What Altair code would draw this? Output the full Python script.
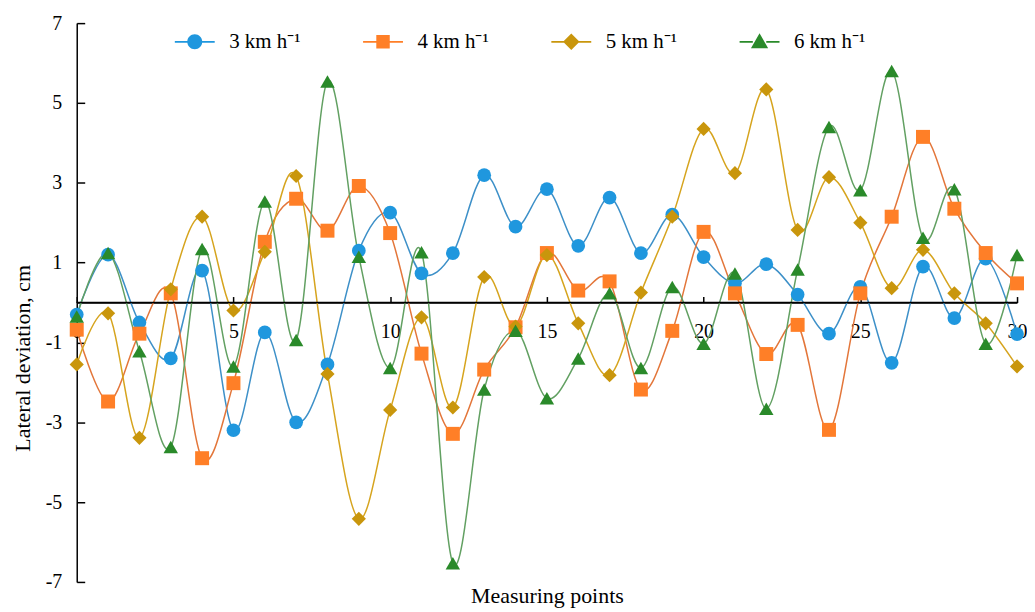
import altair as alt
import pandas as pd

# ---------------- data ----------------
points = list(range(31))
series = ["3 km h⁻¹", "4 km h⁻¹", "5 km h⁻¹", "6 km h⁻¹"]
v3 = [-0.3, 1.2, -0.5, -1.4, 0.8, -3.2, -0.75, -3.0, -1.55, 1.3, 2.25, 0.73, 1.24, 3.19, 1.9,
      2.84, 1.42, 2.63, 1.24, 2.2, 1.14, 0.48, 0.96, 0.2, -0.78, 0.39, -1.51, 0.9, -0.39, 1.1, -0.79]
v4 = [-0.68, -2.48, -0.78, 0.23, -3.9, -2.02, 1.52, 2.6, 1.8, 2.92, 1.74, -1.28, -3.29, -1.68, -0.62,
      1.24, 0.3, 0.53, -2.18, -0.71, 1.77, 0.23, -1.29, -0.56, -3.19, 0.23, 2.15, 4.15, 2.35, 1.24, 0.48]
v5 = [-1.55, -0.27, -3.39, 0.33, 2.15, -0.2, 1.27, 3.17, -1.79, -5.42, -2.69, -0.37, -2.63, 0.64, -0.6,
      1.19, -0.52, -1.82, 0.25, 2.15, 4.35, 3.24, 5.34, 1.82, 3.14, 2.0, 0.36, 1.32, 0.23, -0.52, -1.6]
v6 = [-0.35, 1.24, -1.22, -3.62, 1.34, -1.6, 2.53, -0.94, 5.54, 1.15, -1.64, 1.26, -6.53, -2.18, -0.71,
      -2.4, -1.4, 0.23, -1.64, 0.39, -1.03, 0.73, -2.66, 0.83, 4.4, 2.81, 5.8, 1.62, 2.84, -1.03, 1.19]
x_ticks = [0, 5, 10, 15, 20, 25, 30]
y_ticks = [-7, -5, -3, -1, 1, 3, 5, 7]

marker_colors = ["#1f97de", "#ff7f27", "#c9960c", "#2a8a2a"]
line_colors = ["#3d90c8", "#e3763a", "#d6a41e", "#62a062"]
shapes = ["circle", "square", "diamond", "triangle-up"]
sizes = [190, 210, 250, 230]
legend_paths = [
    "M-2.67,-0.12H-0.9V0.12H-2.67Z M0.9,-0.12H2.67V0.12H0.9Z M1,0A1,1,0,1,1,-1,0A1,1,0,1,1,1,0Z",
    "M-2.67,-0.12H-0.85V0.12H-2.67Z M0.85,-0.12H2.67V0.12H0.85Z M-0.9,-0.9H0.9V0.9H-0.9Z",
    "M-2.67,-0.12H-0.95V0.12H-2.67Z M0.95,-0.12H2.67V0.12H0.95Z M0,-1.1L1.1,0L0,1.1L-1.1,0Z",
    "M-2.67,-0.12H-0.9V0.12H-2.67Z M0.9,-0.12H2.67V0.12H0.9Z M0,-1.15L1.15,0.85H-1.15Z",
]

rows = []
for s, vals in zip(series, [v3, v4, v5, v6]):
    for p, v in zip(points, vals):
        rows.append({"pt": p, "val": v, "series": s})
df = pd.DataFrame(rows)
axis_df = pd.DataFrame({"x0": [0], "x1": [30], "y0": [0]})

W, H = 944, 561
FONT = "Liberation Serif"

xs = alt.Scale(domain=[0, 30], nice=False, zero=False)
ys = alt.Scale(domain=[-7, 7], nice=False, zero=False)

x_axis = alt.Axis(orient="bottom", offset=-H / 2, domain=False, ticks=False, grid=False,
                  values=x_ticks, labelExpr="'' + datum.value", labelPadding=19,
                  labelFontSize=20, labelFlush=False, title="Measuring points",
                  titleFontSize=22, titleFontWeight="normal", titlePadding=245)
y_axis = alt.Axis(orient="left", domain=False, ticks=False, grid=False, values=y_ticks,
                  labelExpr="'' + datum.value", labelPadding=15, labelFontSize=20,
                  title="Lateral deviation, cm", titleFontSize=22,
                  titleFontWeight="normal", titlePadding=11, titleY=336)

lines = alt.Chart(df).mark_line(interpolate="cardinal", strokeWidth=1.5).encode(
    x=alt.X("pt:Q", scale=xs, axis=x_axis),
    y=alt.Y("val:Q", scale=ys, axis=y_axis),
    stroke=alt.Stroke("series:N", scale=alt.Scale(domain=series, range=line_colors), legend=None),
    detail="series:N",
)

pts = alt.Chart(df).mark_point(filled=True, opacity=1, strokeWidth=0).encode(
    x=alt.X("pt:Q", scale=xs, axis=x_axis),
    y=alt.Y("val:Q", scale=ys, axis=y_axis),
    color=alt.Color("series:N", scale=alt.Scale(domain=series, range=marker_colors), legend=None),
    shape=alt.Shape("series:N", scale=alt.Scale(domain=series, range=shapes), legend=None),
    size=alt.Size("series:N", scale=alt.Scale(domain=series, range=sizes), legend=None),
)

data_layer = alt.layer(lines, pts)

frame = alt.Chart(axis_df).mark_rule(color="black", strokeWidth=1.5).encode(
    x=alt.X("x0:Q", scale=xs, axis=alt.Axis(orient="top", offset=-H / 2, labels=False, grid=False,
                                               values=x_ticks, tickSize=6, tickWidth=1.5,
                                               domainWidth=1.5, title=None)),
    x2="x1:Q",
    y=alt.Y("y0:Q", scale=ys, axis=alt.Axis(orient="right", offset=-W, labels=False, grid=False,
                                              values=y_ticks, tickSize=8, tickWidth=1.5,
                                              domainWidth=1.5, title=None)),
)

legend_props = dict(orient="none", legendX=108, legendY=8, direction="horizontal", title=None,
                    symbolSize=225, symbolOpacity=1, symbolStrokeWidth=0,
                    labelFont=FONT, labelFontSize=21, labelFontWeight="normal", labelColor="black",
                    labelOffset=24, columnPadding=62)

leg = alt.Chart(df).mark_point(filled=True, opacity=0, size=225, strokeWidth=0).encode(
    x=alt.X("pt:Q", scale=xs, axis=None),
    y=alt.Y("val:Q", scale=ys, axis=None),
    fill=alt.Fill("series:N", scale=alt.Scale(domain=series, range=marker_colors),
                  legend=alt.Legend(**legend_props)),
    shape=alt.Shape("series:N", scale=alt.Scale(domain=series, range=legend_paths),
                    legend=alt.Legend(**legend_props)),
)

chart = alt.layer(data_layer, frame, leg).resolve_scale(
    x="independent", y="independent", shape="independent", fill="independent"
).properties(
    width=W, height=H, autosize="none",
    padding={"left": 69, "top": 14, "right": 10, "bottom": 29},
).configure(font=FONT).configure_view(stroke=None).configure_axis(
    labelFont=FONT, titleFont=FONT, labelColor="black", titleColor="black",
    domainColor="black", tickColor="black",
).configure_legend(labelFont=FONT, labelFontSize=21, labelColor="black")

chart.save("out.html", embed_options={"renderer": "svg", "actions": False})
